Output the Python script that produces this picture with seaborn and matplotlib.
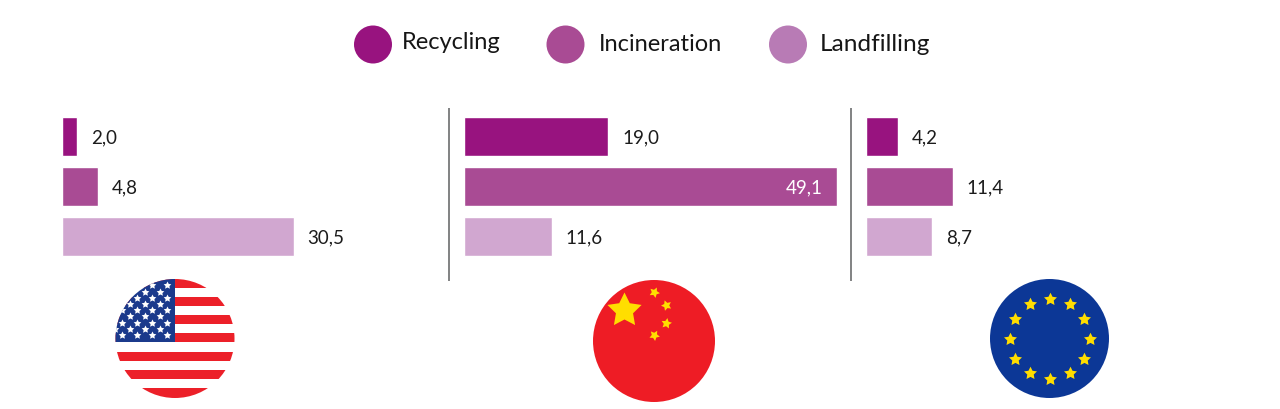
import matplotlib
matplotlib.use("Agg")
import matplotlib.pyplot as plt
from matplotlib.patches import Circle, Rectangle
import numpy as np
import pandas as pd
import seaborn as sns

methods = ["Recycling", "Incineration", "Landfilling"]
usa_values = [2.0, 4.8, 30.5]
china_values = [19.0, 49.1, 11.6]
eu_values = [4.2, 11.4, 8.7]

bar_colors = ["#98137f", "#a94b94", "#d1a7d0"]
legend_colors = ["#98137f", "#a94b94", "#b87bb5"]

W, H = 1280, 409
PX_PER_UNIT = 7.6
FONT = "Lato"

sns.set_theme(style="white")
plt.rcParams["font.family"] = [FONT, "DejaVu Sans"]

fig = plt.figure(figsize=(W / 100, H / 100), dpi=100, facecolor="white")


def panel(values, left, width, inside=()):
    """One horizontal bar group, with decimal-comma value labels."""
    ax = fig.add_axes([(left - 1) / W, 1 - 261.7 / H, width / W, 150 / H])
    df = pd.DataFrame({"method": methods, "value": values})
    sns.barplot(data=df, x="value", y="method", hue="method", order=methods,
                hue_order=methods, palette=bar_colors, width=0.77, dodge=False,
                saturation=1, legend=False, ax=ax)
    ax.set_xlim(0, width / PX_PER_UNIT)
    ax.set_ylim(2.5, -0.5)
    ax.axis("off")
    for name, val in zip(methods, values):
        i = methods.index(name)
        text = f"{val:.1f}".replace(".", ",")
        if name in inside:
            ax.annotate(text, (val, i), xytext=(-10.5, -0.7), textcoords="offset points",
                        ha="right", va="center", color="white", fontsize=13.5)
        else:
            ax.annotate(text, (val, i), xytext=(9.9, -0.7), textcoords="offset points",
                        ha="left", va="center", color="#1c1c1c", fontsize=13.5)
    return ax


panel(usa_values, 63, 377)
panel(china_values, 465, 380, inside=("Incineration",))
panel(eu_values, 867, 400)

# Pixel-space layer for the legend, separators and flags
top = fig.add_axes([0, 0, 1, 1], zorder=5)
top.set_xlim(0, W)
top.set_ylim(H, 0)
top.axis("off")
top.patch.set_alpha(0)

for cx, color in zip([373, 565.5, 788], legend_colors):
    top.add_patch(Circle((cx, 44.5), 19, color=color, lw=0))
for x, y, name, size in zip([402, 598.5, 819.5], [42.5, 44.5, 44.5], methods, [17, 17, 17.6]):
    top.text(x, y, name, ha="left", va="center", fontsize=size,
             color="#161616", family=[FONT, "DejaVu Sans"])

for x in [449, 851]:
    top.plot([x, x], [108, 281], color="#5f6062", lw=1.1, solid_capstyle="butt")


def stars(xs, ys, radius, color, angle=0, clip=None):
    s = (2 * radius * 0.72) ** 2
    art = top.scatter(xs, ys, s=s, marker=(5, 1, angle), color=color,
                      linewidths=0, zorder=4)
    if clip is not None:
        art.set_clip_path(clip)
    return art


# United States
us_disk = Circle((175, 338.5), 59.5, transform=top.transData, fc="white", ec="none")
top.add_patch(us_disk)
for y0, y1 in [(278, 287.5), (296.5, 306), (315, 324), (333, 342),
               (351.5, 360.5), (369.5, 379), (387.5, 398)]:
    r = Rectangle((110, y0), 130, y1 - y0, fc="#ec2029", ec="none", zorder=2)
    top.add_patch(r)
    r.set_clip_path(us_disk)
canton = Rectangle((110, 278), 65, 64.3, fc="#1b3a8c", ec="none", zorder=3)
top.add_patch(canton)
canton.set_clip_path(us_disk)
row_y = 270 + np.array([45, 65, 83, 102, 120, 139, 158, 177, 195]) / 3
odd_x = 100 + np.array([22, 67, 112, 157, 201]) / 3
even_x = 100 + np.array([45, 90, 134, 179]) / 3
for k, y in enumerate(row_y):
    xs = odd_x if k % 2 == 0 else even_x
    stars(xs, [y] * len(xs), 4.0, "white", clip=us_disk)

# China
top.add_patch(Circle((654, 341), 61, fc="#ee1c25", ec="none"))
stars([623.5], [310], 18, "#ffde00")
stars([654], [292], 5.5, "#ffde00", angle=-25)
stars([666], [304.5], 5.5, "#ffde00", angle=20)
stars([666], [323], 5.5, "#ffde00", angle=-10)
stars([654], [335], 5.5, "#ffde00", angle=-30)

# European Union
ex, ey = 1049.5, 338.5
top.add_patch(Circle((ex, ey), 59.5, fc="#0c3796", ec="none"))
theta = np.deg2rad(np.arange(0, 360, 30))
stars(ex + 40 * np.cos(theta), ey + 40 * np.sin(theta), 6.8, "#ffdd00")

fig.savefig("out.png", dpi=100)
